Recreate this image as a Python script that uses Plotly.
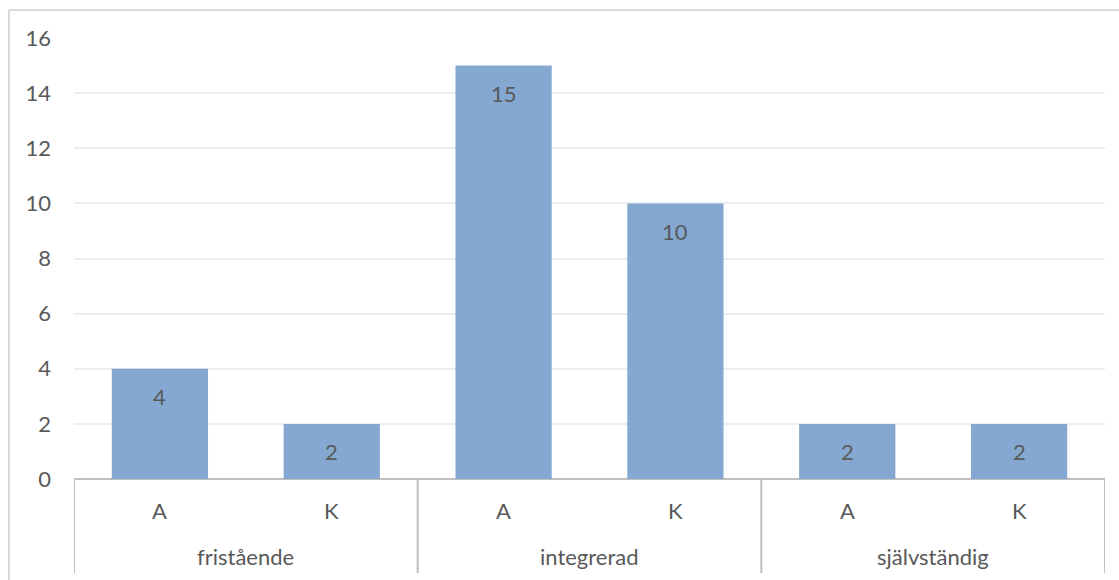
import plotly.graph_objects as go

# Grouped category data
groups = ["fristående", "integrerad", "självständig"]
subcats = ["A", "K", "A", "K", "A", "K"]
values = [4, 2, 15, 10, 2, 2]
y_ticks = [0, 2, 4, 6, 8, 10, 12, 14, 16]

FONT = "Lato, 'Open Sans', sans-serif"
FS = 22
TEXT = "#595959"
BAR = "#84A8D1"
AXIS = "#BFBFBF"
GRID = "#EDEDED"

x_pos = list(range(len(values)))

fig = go.Figure()
fig.add_trace(go.Bar(
    x=x_pos, y=values, width=0.56,
    marker=dict(color=BAR, line=dict(width=0)),
    hoverinfo="skip",
))

fig.update_layout(
    width=1119, height=580,
    margin=dict(l=74, r=14, t=38, b=101),
    paper_bgcolor="white", plot_bgcolor="white",
    showlegend=False,
    font=dict(family=FONT, size=FS, color=TEXT),
)

# pixel helpers for the area outside the plot
plot_h = 580 - 38 - 101
plot_w = 1119 - 74 - 14


def py(pix):
    return (479 - pix) / plot_h


def px(pix):
    return (pix - 74) / plot_w


annotations = []
shapes = []

# value labels inside the bars, near the top
for xi, v in zip(x_pos, values):
    annotations.append(dict(x=xi, y=v, xref="x", yref="y", text=str(v),
                            showarrow=False, yshift=-28,
                            font=dict(family=FONT, size=FS, color=TEXT)))
# first level category labels
for xi, s in zip(x_pos, subcats):
    annotations.append(dict(x=xi, y=py(511), xref="x", yref="paper", text=s,
                            showarrow=False, yanchor="middle",
                            font=dict(family=FONT, size=FS, color=TEXT)))
# second level (group) labels
for gi, g in enumerate(groups):
    annotations.append(dict(x=2 * gi + 0.5, y=py(556), xref="x", yref="paper",
                            text=g, showarrow=False, yanchor="middle",
                            font=dict(family=FONT, size=FS, color=TEXT)))

# group separators on the category axis
for b in [-0.5, 1.5, 3.5, 5.5]:
    shapes.append(dict(type="line", xref="x", yref="paper", x0=b, x1=b,
                       y0=0, y1=py(573), line=dict(color=AXIS, width=2)))

# chart border (top and left edges visible)
shapes.append(dict(type="line", xref="paper", yref="paper",
                   x0=px(9), x1=px(1125), y0=py(10), y1=py(10),
                   line=dict(color="#D9D9D9", width=2)))
shapes.append(dict(type="line", xref="paper", yref="paper",
                   x0=px(9), x1=px(9), y0=py(10), y1=py(590),
                   line=dict(color="#D9D9D9", width=2)))

fig.update_layout(annotations=annotations, shapes=shapes)

fig.update_xaxes(range=[-0.5, 5.5], showticklabels=False, showgrid=False,
                 zeroline=False, showline=False, fixedrange=True)
fig.update_yaxes(range=[0, 16], tickvals=y_ticks, showgrid=True,
                 gridcolor=GRID, gridwidth=1.5, zeroline=True,
                 zerolinecolor=AXIS, zerolinewidth=2, ticks="",
                 ticklabelstandoff=22,
                 tickfont=dict(family=FONT, size=FS, color=TEXT))

fig.write_html("out.html")
